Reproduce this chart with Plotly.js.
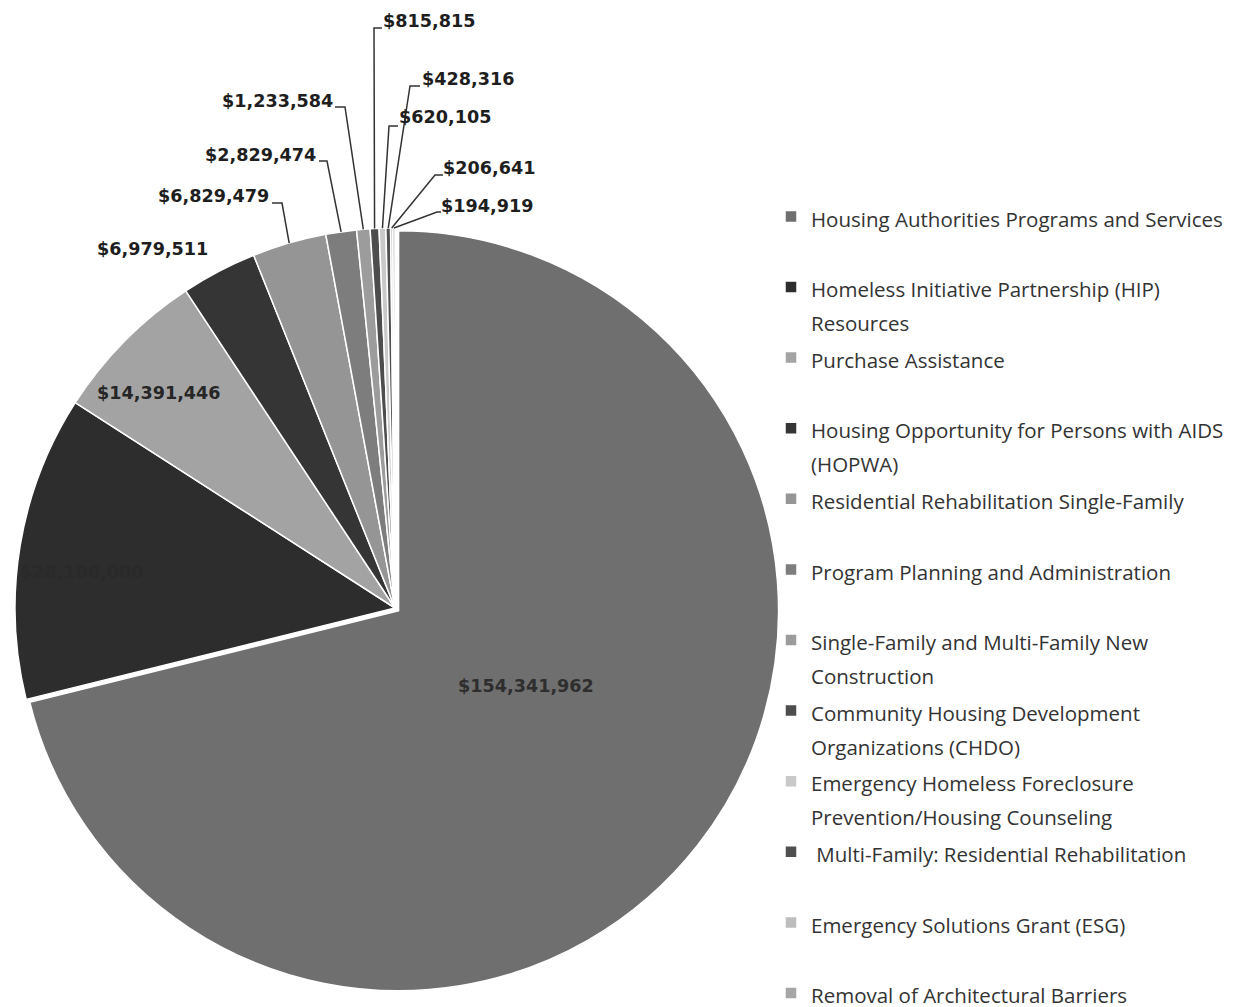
<!DOCTYPE html>
<html><head><meta charset="utf-8">
<script src="https://cdn.plot.ly/plotly-3.0.1.min.js"></script>
<style>html,body{margin:0;padding:0;background:#fff}#chart{width:1243px;height:1007px}</style>
</head><body><div id="chart"></div>
<script>
// ---- data ----
const categories = [
  "Housing Authorities Programs and Services",
  "Homeless Initiative Partnership (HIP)<br>Resources",
  "Purchase Assistance",
  "Housing Opportunity for Persons with AIDS<br>(HOPWA)",
  "Residential Rehabilitation Single-Family",
  "Program Planning and Administration",
  "Single-Family and Multi-Family New<br>Construction",
  "Community Housing Development<br>Organizations (CHDO)",
  "Emergency Homeless Foreclosure<br>Prevention/Housing Counseling",
  " Multi-Family: Residential Rehabilitation",
  "Emergency Solutions Grant (ESG)",
  "Removal of Architectural Barriers"
];
const amounts = [154341962, 28100000, 14391446, 6979511, 6829479, 2829474,
                 1233584, 815815, 620105, 428316, 206641, 194919];

// ---- styles ----
const sliceColors = ["#6f6f6f", "#2d2d2d", "#a3a3a3", "#353535", "#959595", "#7d7d7d",
                     "#9c9c9c", "#4d4d4d", "#c9c9c9", "#4f4f4f", "#bdbdbd", "#a6a6a6"];
// label placement (pixels): text centre, optional leader stub/elbow
const labelLayout = [
  {x: 526, y: 686, color: "#2e2e2e"},
  {x: 82,  y: 572, color: "#2a2a2a"},
  {x: 159, y: 393, color: "#262626"},
  {x: 152, y: 249},
  {x: 213, y: 196, stub: [272, 203], elbow: [282, 203]},
  {x: 260, y: 155, stub: [319, 161], elbow: [327, 161]},
  {x: 277, y: 101, stub: [335, 107], elbow: [345, 107]},
  {x: 429, y: 21,  stub: [382, 28],  elbow: [374, 28]},
  {x: 445, y: 117, stub: [398, 126], elbow: [389, 126]},
  {x: 468, y: 79,  stub: [420, 86],  elbow: [410, 86]},
  {x: 489, y: 168, stub: [443, 175], elbow: [435, 175]},
  {x: 487, y: 206, stub: [441, 212], elbow: [437, 212]}
];

const W = 1243, H = 1007;
const pullBig = 0.012;
const cxPx = 395, cyPx = 608, rPx = 380;
const half = rPx * (1 + pullBig);
const domX = [(cxPx - half) / W, (cxPx + half) / W];
const domY = [1 - (cyPx + half) / H, 1 - (cyPx - half) / H];

// legend labels: glyphs drawn at 20.5px inside a 26px line grid, two lines per entry
const legendLabels = categories.map(c => {
  const lines = c.split("<br>").map(l => '<span style="font-size:20.5px">' + l + '</span>');
  while (lines.length < 2) lines.push(" ");
  return lines.join("<br>");
});

const fmt = v => "$" + v.toLocaleString("en-US");
const px2x = p => p / W, px2y = p => 1 - p / H;

const total = amounts.reduce((a, b) => a + b, 0);
let cum = 0;
const annotations = [], shapes = [];
amounts.forEach((v, i) => {
  const mid = 2 * Math.PI * (cum + v / 2) / total;
  cum += v;
  const L = labelLayout[i];
  annotations.push({
    xref: "paper", yref: "paper", x: px2x(L.x), y: px2y(L.y),
    xanchor: "center", yanchor: "middle", showarrow: false,
    text: "<b>" + fmt(v) + "</b>",
    font: {family: "DejaVu Sans", size: 17.6, color: L.color || "#1e1e1e"}
  });
  if (L.stub) {
    const ex = cxPx + rPx * Math.sin(mid), ey = cyPx - rPx * Math.cos(mid);
    shapes.push({
      type: "path", xref: "paper", yref: "paper",
      path: `M${px2x(L.stub[0])},${px2y(L.stub[1])} L${px2x(L.elbow[0])},${px2y(L.elbow[1])} L${px2x(ex)},${px2y(ey)}`,
      line: {color: "#333", width: 1.5}
    });
  }
});

const trace = {
  type: "pie",
  labels: legendLabels,
  values: amounts,
  sort: false,
  direction: "clockwise",
  rotation: 0,
  pull: amounts.map((v, i) => i === 0 ? pullBig : 0),
  marker: {colors: sliceColors, line: {color: "#ffffff", width: 1.5}},
  textinfo: "none",
  hoverinfo: "label+value",
  domain: {x: domX, y: domY}
};

const layout = {
  width: W, height: H,
  margin: {l: 0, r: 0, t: 0, b: 0, autoexpand: false},
  paper_bgcolor: "#fff",
  showlegend: true,
  legend: {
    x: 771 / W, xanchor: "left", y: 1 - 193 / H, yanchor: "top",
    valign: "top", traceorder: "normal",
    font: {family: "Open Sans", size: 26, color: "#333"},
    bgcolor: "rgba(0,0,0,0)"
  },
  annotations: annotations,
  shapes: shapes
};

Plotly.newPlot("chart", [trace], layout, {displayModeBar: false, staticPlot: true});
</script>
</body></html>
